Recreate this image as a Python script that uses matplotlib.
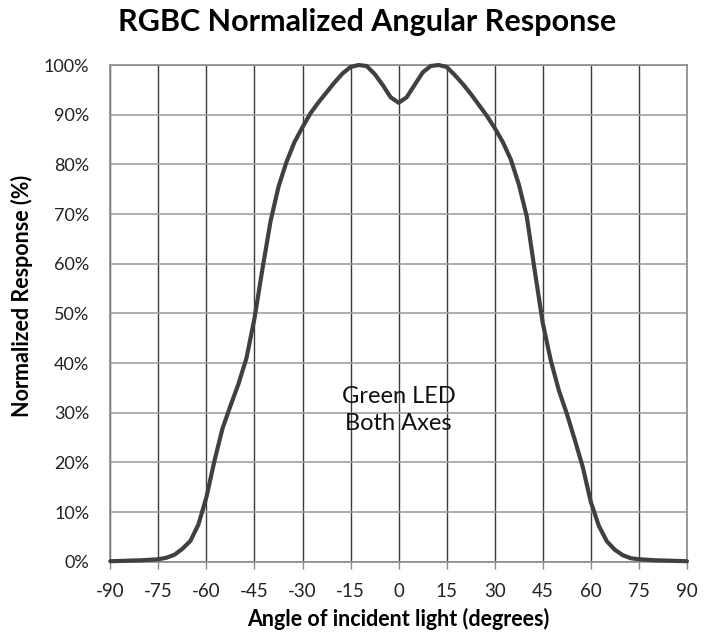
import matplotlib.pyplot as plt
from matplotlib.ticker import FuncFormatter

plt.rcParams["font.family"] = ["Lato", "DejaVu Sans"]

# angle of incident light (deg) and normalized response (%)
angles = [-90, -85, -80, -75, -72.5, -70, -67.5, -65, -62.5, -60, -57.5, -55,
          -52.5, -50, -47.5, -45, -42.5, -40, -37.5, -35, -32.5, -30, -27.5,
          -25, -22.5, -20, -17.5, -15, -12.5, -10, -7.5, -5, -2.5, 0,
          2.5, 5, 7.5, 10, 12.5, 15, 17.5, 20, 22.5, 25, 27.5, 30, 32.5, 35,
          37.5, 40, 42.5, 45, 47.5, 50, 52.5, 55, 57.5, 60, 62.5, 65, 67.5,
          70, 72.5, 75, 80, 85, 90]
response = [0.1, 0.2, 0.3, 0.5, 0.8, 1.4, 2.6, 4.2, 7.5, 13.0, 20.3, 26.8,
            31.4, 35.8, 41.0, 49.0, 59.0, 68.5, 75.5, 80.5, 84.5, 87.5, 90.3,
            92.5, 94.5, 96.5, 98.3, 99.6, 100, 99.8, 98.2, 96.0, 93.5, 92.4,
            93.5, 96.0, 98.5, 99.8, 100, 99.6, 98.0, 96.2, 94.2, 92.0, 89.8,
            87.3, 84.5, 81.0, 76.0, 69.5, 58.5, 48.0, 40.5, 34.5, 29.8, 24.5,
            19.0, 12.0, 7.2, 4.1, 2.4, 1.3, 0.7, 0.5, 0.3, 0.2, 0.1]
x_ticks = list(range(-90, 91, 15))
y_ticks = list(range(0, 101, 10))

fig = plt.figure(figsize=(7.15, 6.43), dpi=100)
ax = fig.add_axes([0.1543, 0.1264, 0.8065, 0.7725])

ax.plot(angles, response, color="#404040", lw=3.0, solid_capstyle="round",
        solid_joinstyle="round", clip_on=False, zorder=3)

ax.set_xlim(-90, 90)
ax.set_ylim(0, 100)
ax.set_xticks(x_ticks)
ax.set_yticks(y_ticks)
ax.xaxis.set_major_formatter(FuncFormatter(lambda v, p: f"{v:.0f}"))
ax.yaxis.set_major_formatter(FuncFormatter(lambda v, p: f"{v:.0f}%"))

# vertical grid darker than horizontal, like the Excel original
for x in x_ticks:
    ax.axvline(x, color="#3a3a3a", lw=1.0, zorder=1)
for y in y_ticks:
    ax.axhline(y, color="#a0a0a0", lw=1.2, zorder=1)

for s in ax.spines.values():
    s.set_color("#8a8a8a")
    s.set_linewidth(1.2)

ax.tick_params(axis="x", length=5, width=1, color="#8a8a8a", labelsize=13.5,
               pad=10, labelcolor="#222222")
ax.tick_params(axis="y", length=0, labelsize=13, pad=15, labelcolor="#222222")

fig.text(367 / 715, 1 - 22 / 643, "RGBC Normalized Angular Response",
         fontsize=22, fontweight="bold", ha="center", va="center")
ax.set_xlabel("Angle of incident light (degrees)", fontsize=15.5,
              fontweight="bold")
ax.set_ylabel("Normalized Response (%)", fontsize=15.5, fontweight="bold")
ax.xaxis.set_label_coords(0.5, -(619 - 562) / 497)
ax.yaxis.set_label_coords(-(110 - 22) / 577, (562 - 296) / 497)
ax.xaxis.label.set_va("center")
ax.yaxis.label.set_va("center")

ax.text(0, 30.6, "Green LED\nBoth Axes", ha="center", va="center", fontsize=17,
        linespacing=1.35, color="#111111", zorder=4)

plt.savefig("out.png", dpi=100)
